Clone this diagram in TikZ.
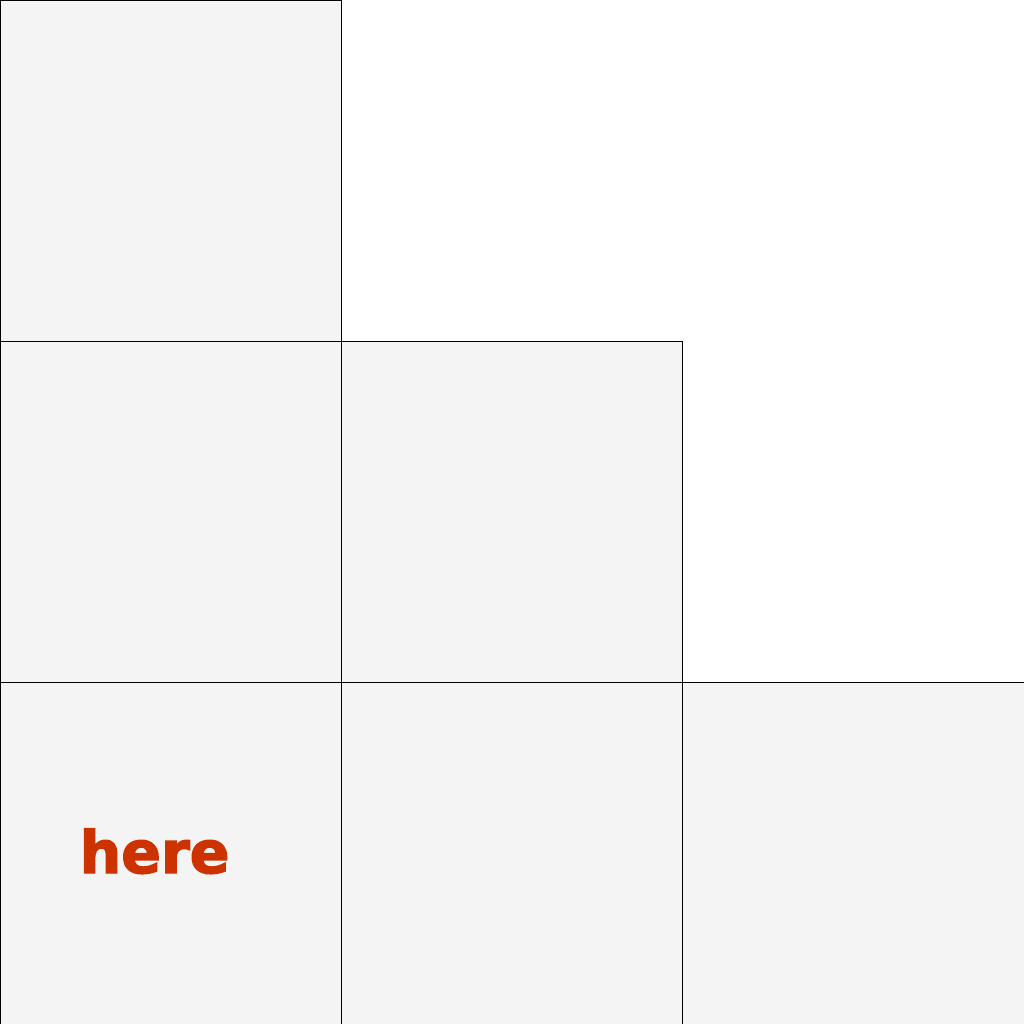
\documentclass[tikz,border=0pt]{standalone}
\usepackage{fontspec}
\newfontface\herefont[FakeBold=2.5]{DejaVu Sans Bold}
\definecolor{cellgray}{HTML}{F4F4F4}
\definecolor{herered}{HTML}{CC3300}
\tikzset{
  cell/.style={draw=black, fill=cellgray, line width=0.8pt},
  heretext/.style={text=herered, font=\herefont\fontsize{58.5}{60}\selectfont, anchor=base, inner sep=0pt}
}
\begin{document}
\begin{tikzpicture}[x=1pt,y=-1pt]
\useasboundingbox (0,0) rectangle (1024,1024);
\def\s{341.33}
\foreach \r/\c [count=\i] in {0/0,1/0,1/1,2/0,2/1,2/2}{
  \path[cell] (\c*\s,\r*\s) rectangle ++(\s,\s);
}
\node[heretext] (here) at (154.5,873) {here};
\end{tikzpicture}
\end{document}
